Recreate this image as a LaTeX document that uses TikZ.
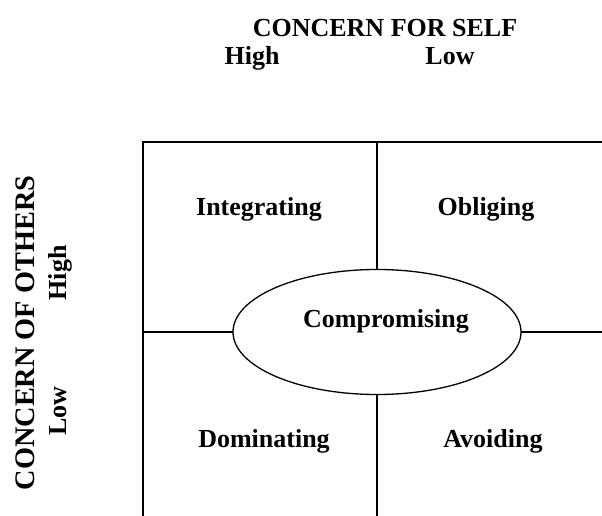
\documentclass[tikz,border=0pt]{standalone}
\usepackage{fontspec}
\setmainfont{Liberation Serif}
\usetikzlibrary{shapes.geometric}

\begin{document}
\begin{tikzpicture}[x=1pt, y=-1pt,
    lbl/.style={font=\fontsize{26}{30}\selectfont\bfseries, anchor=base, inner sep=0pt},
    gridline/.style={line width=2.2pt, line cap=rect}]
    \useasboundingbox (0,0) rectangle (602,516);

    % axis titles
    \node[lbl] (self) at (385,37) {CONCERN FOR SELF};
    \node[lbl] (selfhigh) at (252,65) {High};
    \node[lbl] (selflow) at (450,65) {Low};
    \node[lbl, rotate=90, font=\fontsize{28.3}{32}\selectfont\bfseries] (others) at (34,333) {CONCERN OF OTHERS};
    \node[lbl, rotate=90] (othershigh) at (66,273) {High};
    \node[lbl, rotate=90] (otherslow) at (66,411) {Low};

    % grid corners and edges
    \coordinate (tl) at (143,142);
    \coordinate (tr) at (602,142);
    \coordinate (bl) at (143,516);
    \coordinate (tm) at (377,142);
    \coordinate (bm) at (377,516);
    \coordinate (ml) at (143,332);
    \coordinate (mr) at (602,332);

    % centre ellipse
    \node[draw, ellipse, line width=1.3pt, minimum width=288pt, minimum height=125pt,
      inner sep=0pt] (comp) at (377,332) {};
    \node[lbl] (comptxt) at (386,327) {Compromising};

    \draw[gridline] (bl) -- (tl) -- (tr);
    \draw[gridline] (tm) -- (comp.north);
    \draw[gridline] (comp.south) -- (bm);
    \draw[gridline] (ml) -- (comp.west);
    \draw[gridline] (comp.east) -- (mr);

    % the four styles
    \node[lbl] (integ) at (259,215) {Integrating};
    \node[lbl] (oblig) at (486,215) {Obliging};
    \node[lbl] (domin) at (264,447) {Dominating};
    \node[lbl] (avoid) at (493,447) {Avoiding};
\end{tikzpicture}
\end{document}
